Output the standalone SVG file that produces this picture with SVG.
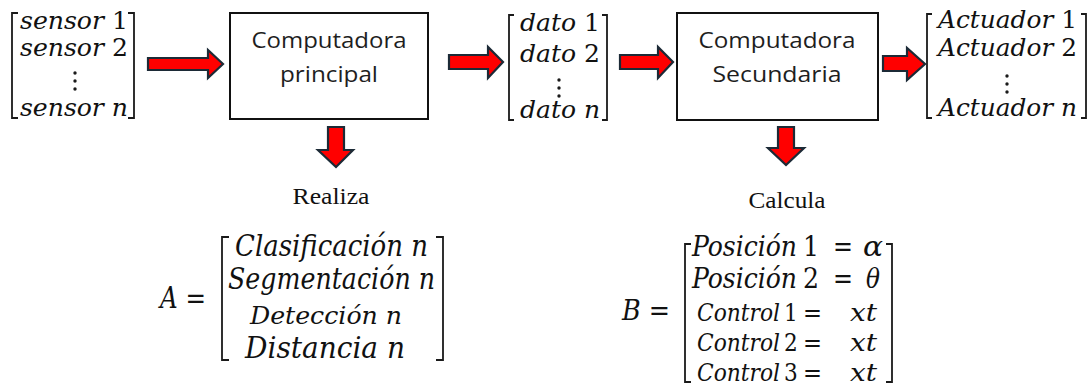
<svg xmlns="http://www.w3.org/2000/svg" width="1089" height="386" viewBox="0 0 1089 386">
  <defs>
    <style>
      .box { fill: #ffffff; stroke: #111111; stroke-width: 2; }
      .brk { fill: none; stroke: #1a1a1a; stroke-width: 1.8; stroke-linejoin: miter; }
      .arrow { fill: #ff0000; stroke: #1c2a36; stroke-width: 2.2; stroke-linejoin: miter; }
      .lbl { font-family: "Open Sans", "Liberation Sans", sans-serif; font-size: 22px; fill: #1e1e1e; text-anchor: middle; }
      .cap { font-family: "Liberation Serif", "Times New Roman", serif; font-size: 24px; fill: #111111; text-anchor: middle; }
      .m { font-family: "DejaVu Serif", "Liberation Serif", serif; font-stretch: condensed; fill: #111111; }
      .i { font-style: italic; }
      .dot { fill: #1a1a1a; }
    </style>
  </defs>

  <rect width="1089" height="386" fill="#ffffff"/>

  <!-- sensor vector -->
  <g id="sensores">
    <path class="brk" d="M18,13 H12 V118 H18"/>
    <path class="brk" d="M128,13 H134 V118 H128"/>
    <text class="m" font-size="25" x="20" y="29" textLength="108" lengthAdjust="spacingAndGlyphs"><tspan class="i">sensor</tspan> 1</text>
    <text class="m" font-size="25" x="20" y="56" textLength="108" lengthAdjust="spacingAndGlyphs"><tspan class="i">sensor</tspan> 2</text>
    <circle class="dot" cx="75" cy="73" r="1.7"/>
    <circle class="dot" cx="75" cy="81" r="1.7"/>
    <circle class="dot" cx="75" cy="89" r="1.7"/>
    <text class="m i" font-size="25" x="20" y="116" textLength="108" lengthAdjust="spacingAndGlyphs">sensor n</text>
  </g>

  <!-- main computer -->
  <g id="computadora-principal">
    <rect class="box" x="230" y="13" width="198" height="106"/>
    <text class="lbl" x="329" y="48" textLength="155" lengthAdjust="spacingAndGlyphs">Computadora</text>
    <text class="lbl" x="329" y="82" textLength="98" lengthAdjust="spacingAndGlyphs">principal</text>
  </g>

  <!-- data vector -->
  <g id="datos">
    <path class="brk" d="M514,15 H509 V120 H514"/>
    <path class="brk" d="M602,15 H607 V120 H602"/>
    <text class="m" font-size="25" x="520" y="31" textLength="80" lengthAdjust="spacingAndGlyphs"><tspan class="i">dato</tspan> 1</text>
    <text class="m" font-size="25" x="520" y="62" textLength="80" lengthAdjust="spacingAndGlyphs"><tspan class="i">dato</tspan> 2</text>
    <circle class="dot" cx="559" cy="80" r="1.7"/>
    <circle class="dot" cx="559" cy="88" r="1.7"/>
    <circle class="dot" cx="559" cy="96" r="1.7"/>
    <text class="m i" font-size="25" x="520" y="118" textLength="80" lengthAdjust="spacingAndGlyphs">dato n</text>
  </g>

  <!-- secondary computer -->
  <g id="computadora-secundaria">
    <rect class="box" x="677" y="13" width="201" height="107"/>
    <text class="lbl" x="777" y="48" textLength="157" lengthAdjust="spacingAndGlyphs">Computadora</text>
    <text class="lbl" x="777" y="82" textLength="129" lengthAdjust="spacingAndGlyphs">Secundaria</text>
  </g>

  <!-- actuator vector -->
  <g id="actuadores">
    <path class="brk" d="M932,14 H927 V118 H932"/>
    <path class="brk" d="M1081,14 H1086 V118 H1081"/>
    <text class="m" font-size="25" x="938" y="28" textLength="139" lengthAdjust="spacingAndGlyphs"><tspan class="i">Actuador</tspan> 1</text>
    <text class="m" font-size="25" x="938" y="56" textLength="139" lengthAdjust="spacingAndGlyphs"><tspan class="i">Actuador</tspan> 2</text>
    <circle class="dot" cx="1007" cy="76" r="1.7"/>
    <circle class="dot" cx="1007" cy="84" r="1.7"/>
    <circle class="dot" cx="1007" cy="92" r="1.7"/>
    <text class="m i" font-size="25" x="938" y="116" textLength="139" lengthAdjust="spacingAndGlyphs">Actuador n</text>
  </g>

  <!-- "Realiza" result A -->
  <g id="realiza">
    <text class="cap" x="331" y="204" textLength="77" lengthAdjust="spacingAndGlyphs">Realiza</text>
  </g>
  <g id="matriz-a">
    <text class="m" font-size="29" x="160" y="308" textLength="46" lengthAdjust="spacingAndGlyphs"><tspan class="i">A</tspan> =</text>
    <path class="brk" d="M229,237 H222 V360 H229"/>
    <path class="brk" d="M436,237 H443 V360 H436"/>
    <text class="m i" font-size="29" x="235" y="256" textLength="193" lengthAdjust="spacingAndGlyphs">Clasificación n</text>
    <text class="m i" font-size="29" x="228" y="289" textLength="207" lengthAdjust="spacingAndGlyphs">Segmentación n</text>
    <text class="m i" font-size="24" x="250" y="324" textLength="152" lengthAdjust="spacingAndGlyphs">Detección n</text>
    <text class="m i" font-size="29" x="245" y="358" textLength="160" lengthAdjust="spacingAndGlyphs">Distancia n</text>
  </g>

  <!-- "Calcula" result B -->
  <g id="calcula">
    <text class="cap" x="787" y="208" textLength="77" lengthAdjust="spacingAndGlyphs">Calcula</text>
  </g>
  <g id="matriz-b">
    <text class="m" font-size="28" x="622" y="320" textLength="48" lengthAdjust="spacingAndGlyphs"><tspan class="i">B</tspan> =</text>
    <path class="brk" d="M691,244 H685 V382 H691"/>
    <path class="brk" d="M886,244 H892 V382 H886"/>
    <text class="m i" font-size="28" x="692" y="256" textLength="105" lengthAdjust="spacingAndGlyphs">Posición</text>
    <text class="m" font-size="28" x="803" y="256">1</text>
    <text class="m" font-size="28" x="833" y="256" textLength="20" lengthAdjust="spacingAndGlyphs">=</text>
    <text class="m i" font-size="28" x="863" y="256" textLength="20" lengthAdjust="spacingAndGlyphs">α</text>
    <text class="m i" font-size="28" x="692" y="288" textLength="105" lengthAdjust="spacingAndGlyphs">Posición</text>
    <text class="m" font-size="28" x="803" y="288">2</text>
    <text class="m" font-size="28" x="833" y="288" textLength="20" lengthAdjust="spacingAndGlyphs">=</text>
    <text class="m i" font-size="28" x="866" y="288" textLength="14" lengthAdjust="spacingAndGlyphs">θ</text>
    <text class="m i" font-size="24" x="697" y="321" textLength="83" lengthAdjust="spacingAndGlyphs">Control</text>
    <text class="m" font-size="24" x="784" y="321">1</text>
    <text class="m" font-size="24" x="803" y="321" textLength="19" lengthAdjust="spacingAndGlyphs">=</text>
    <text class="m i" font-size="24" x="850" y="321" textLength="27" lengthAdjust="spacingAndGlyphs">xt</text>
    <text class="m i" font-size="24" x="697" y="351" textLength="83" lengthAdjust="spacingAndGlyphs">Control</text>
    <text class="m" font-size="24" x="784" y="351">2</text>
    <text class="m" font-size="24" x="803" y="351" textLength="19" lengthAdjust="spacingAndGlyphs">=</text>
    <text class="m i" font-size="24" x="850" y="351" textLength="27" lengthAdjust="spacingAndGlyphs">xt</text>
    <text class="m i" font-size="24" x="697" y="381" textLength="83" lengthAdjust="spacingAndGlyphs">Control</text>
    <text class="m" font-size="24" x="784" y="381">3</text>
    <text class="m" font-size="24" x="803" y="381" textLength="19" lengthAdjust="spacingAndGlyphs">=</text>
    <text class="m i" font-size="24" x="850" y="381" textLength="27" lengthAdjust="spacingAndGlyphs">xt</text>
  </g>

  <!-- block arrows between stages -->
  <g id="conectores">
    <polygon class="arrow" points="148,58 208,58 208,50 223,64 208,78 208,70 148,70"/>
    <polygon class="arrow" points="449,55 488,55 488,47 503,62 488,78 488,69 449,69"/>
    <polygon class="arrow" points="620,55 658,55 658,47 673,62 658,78 658,69 620,69"/>
    <polygon class="arrow" points="883,56 907,56 907,48 925,64 907,80 907,71 883,71"/>
    <polygon class="arrow" points="328,127 344,127 344,150 353,150 336,167 318,150 328,150"/>
    <polygon class="arrow" points="778,127 794,127 794,148 804,148 786,165 768,148 778,148"/>
  </g>
</svg>
